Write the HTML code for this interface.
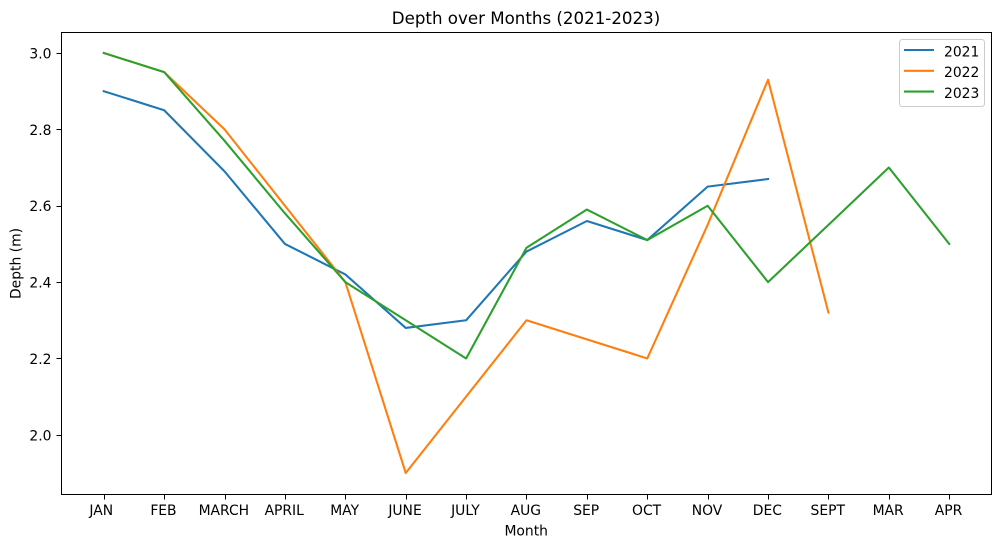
<!DOCTYPE html>
<html>
<head>
<meta charset="utf-8">
<title>Depth over Months (2021-2023)</title>
<style>
  html, body { margin: 0; padding: 0; background: #fff; }
  svg { display: block; }
  text { font-family: "DejaVu Sans", sans-serif; fill: #000; }
</style>
</head>
<body>
<svg id="chart" xmlns="http://www.w3.org/2000/svg" width="1001" height="547" viewBox="0 0 1001 547"></svg>
<script>
const months = ["JAN","FEB","MARCH","APRIL","MAY","JUNE","JULY","AUG","SEP","OCT","NOV","DEC","SEPT","MAR","APR"];
const depth2021 = [2.9,2.85,2.69,2.5,2.42,2.28,2.3,2.48,2.56,2.51,2.65,2.67];
const depth2022 = [3.0,2.95,2.8,2.6,2.4,1.9,2.1,2.3,2.25,2.2,2.55,2.93,2.32];
const depth2023 = [3.0,2.95,2.77,2.58,2.4,2.3,2.2,2.49,2.59,2.51,2.6,2.4,2.55,2.7,2.5];
const yTickValues = [2.0,2.2,2.4,2.6,2.8,3.0];
const seriesLabels = ["2021","2022","2023"];

const NS = "http://www.w3.org/2000/svg";
const svg = document.getElementById("chart");
const plot = { left: 61.5, right: 991.5, top: 32.5, bottom: 494.5 };
const colors = ["#1f77b4", "#ff7f0e", "#2ca02c"];
const allSeries = [depth2021, depth2022, depth2023];

function xScale(i) {
  const n = months.length - 1;
  const w = plot.right - plot.left;
  return plot.left + w * (i + n * 0.05) / (n * 1.1);
}
const allValues = depth2021.concat(depth2022, depth2023);
const yMin = Math.min.apply(null, allValues);
const yMax = Math.max.apply(null, allValues);
function yScale(v) {
  const span = yMax - yMin;
  const h = plot.bottom - plot.top;
  return plot.bottom - 0.5 - h * (v - yMin + span * 0.05) / (span * 1.1);
}
function make(tag, attrs, parent) {
  const el = document.createElementNS(NS, tag);
  for (const k in attrs) el.setAttribute(k, attrs[k]);
  (parent || svg).appendChild(el);
  return el;
}
function snap(v) { return Math.round(v) + 0.5; }

// Plot background
const bg = make("rect", { x: plot.left, y: plot.top, width: plot.right - plot.left, height: plot.bottom - plot.top, fill: "#fff" });



// Series lines
allSeries.forEach(function (values, s) {
  const pts = values.map(function (v, i) { return xScale(i).toFixed(2) + "," + yScale(v).toFixed(2); }).join(" ");
  const line = make("polyline", { points: pts, fill: "none", stroke: colors[s], "stroke-width": 2.08, "stroke-linejoin": "round", "stroke-linecap": "square" });
  
  
});

// X axis ticks and labels
months.forEach(function (m, i) {
  const x = snap(xScale(i) - 0.01);
  const tick = make("line", { x1: x, x2: x, y1: plot.bottom, y2: plot.bottom + 5, stroke: "#000", "stroke-width": 1 });
  
  
  const inkShift = m === "JAN" ? -2.5 : -0.7;
  const label = make("text", { x: xScale(i) + inkShift, y: 515, "text-anchor": "middle", "font-size": "13.89px" });
  label.textContent = m;
  
  
});

// Y axis ticks and labels
yTickValues.forEach(function (v) {
  const y = snap(yScale(v));
  const tick = make("line", { x1: plot.left - 5, x2: plot.left, y1: y, y2: y, stroke: "#000", "stroke-width": 1 });
  
  
  const label = make("text", { x: 51.5, y: yScale(v) + 5.5, "text-anchor": "end", "font-size": "13.89px" });
  label.textContent = v.toFixed(1);
  
  
});

// Frame
const frame = make("rect", { x: plot.left, y: plot.top, width: plot.right - plot.left, height: plot.bottom - plot.top, fill: "none", stroke: "#000", "stroke-width": 1 });



// Titles
const title = make("text", { x: 526, y: 24, "text-anchor": "middle", "font-size": "16.67px" });
title.textContent = "Depth over Months (2021-2023)";



const xTitle = make("text", { x: 526.2, y: 535.4, "text-anchor": "middle", "font-size": "13.89px" });
xTitle.textContent = "Month";



const yTitle = make("text", { x: 0, y: 0, "text-anchor": "middle", "font-size": "13.89px", transform: "translate(20.5 263.5) rotate(-90)" });
yTitle.textContent = "Depth (m)";



// Legend
const legend = make("g", {});


const legendBox = make("rect", { x: 899.5, y: 39.5, width: 85, height: 67, rx: 2.8, ry: 2.8, fill: "#fff", "fill-opacity": 0.8, stroke: "#ccc", "stroke-width": 1 }, legend);


seriesLabels.forEach(function (name, s) {
  const rowY = 50 + s * 20.8;
  const swatch = make("line", { x1: 904, x2: 934, y1: rowY, y2: rowY, stroke: colors[s], "stroke-width": 2.08 }, legend);
  
  
  const text = make("text", { x: 944, y: rowY + 6.3, "font-size": "13.89px" }, legend);
  text.textContent = name;
  
  
});
</script>
</body>
</html>
